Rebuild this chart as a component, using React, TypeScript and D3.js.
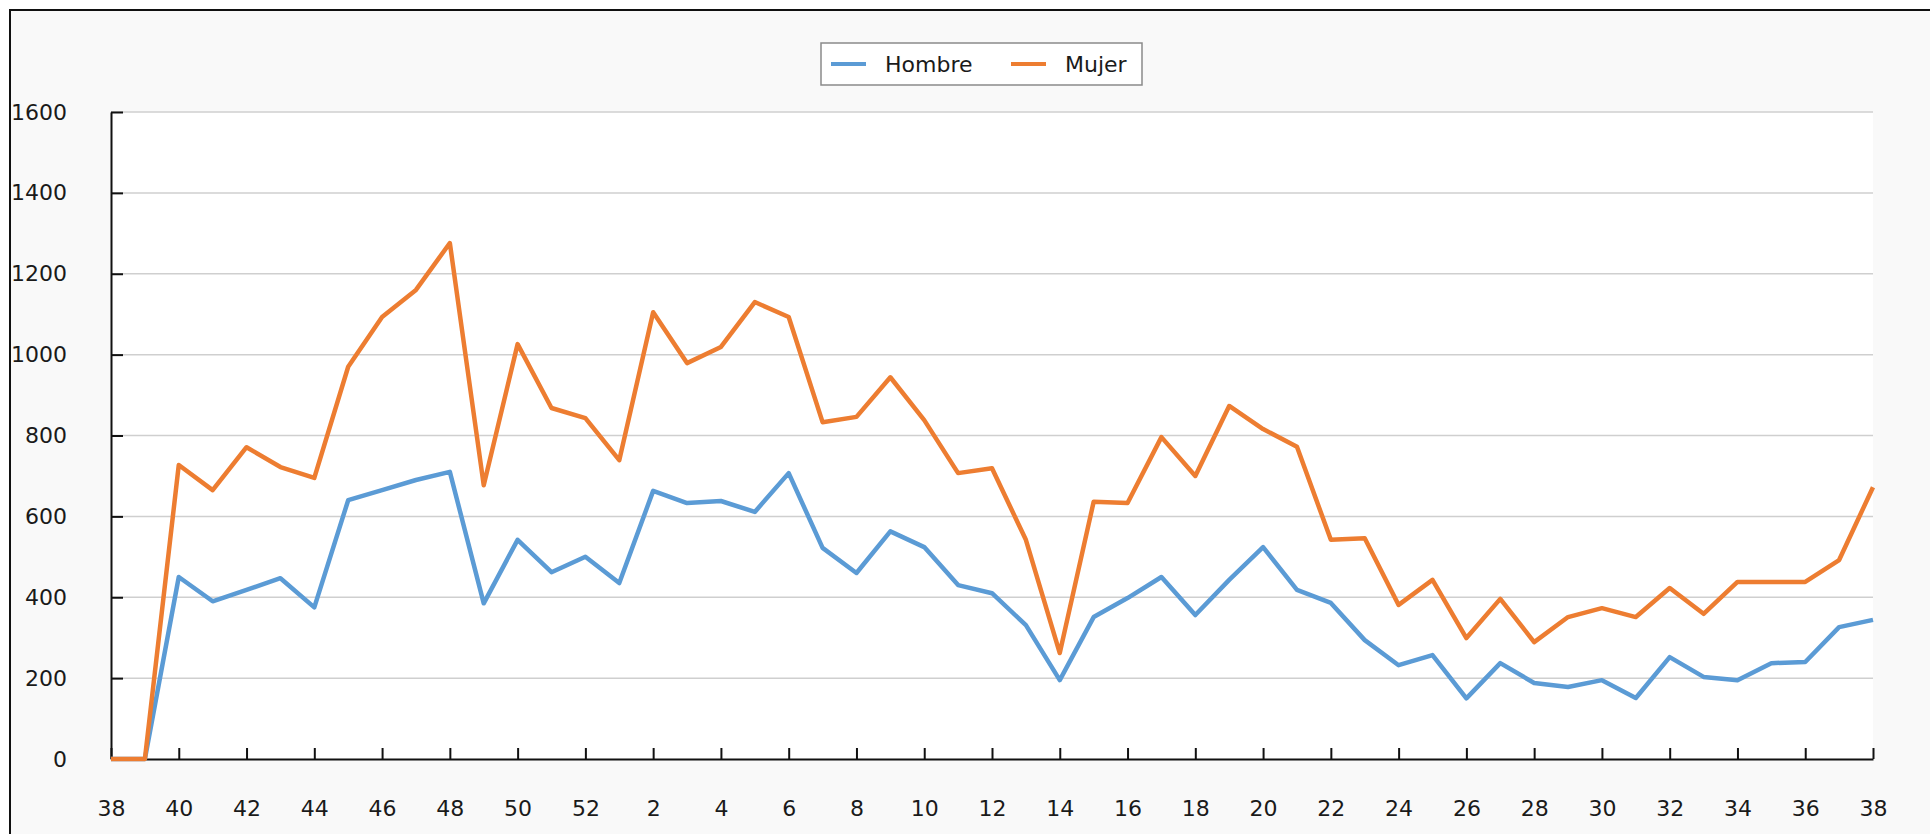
import React, { useEffect, useRef } from 'react';
import * as d3 from 'd3';

// semanas (de la 38 a la 38 del año siguiente)
const weeks = [
  '38', '39', '40', '41', '42', '43', '44', '45', '46', '47', '48', '49', '50', '51', '52',
  '1', '2', '3', '4', '5', '6', '7', '8', '9', '10', '11', '12', '13', '14', '15', '16',
  '17', '18', '19', '20', '21', '22', '23', '24', '25', '26', '27', '28', '29', '30', '31',
  '32', '33', '34', '35', '36', '37', '38',
];

const hombre = [
  0, 0, 450, 390, 418, 447, 375, 640, 665, 690, 710, 385, 542, 462, 500,
  435, 663, 633, 638, 611, 707, 522, 460, 563, 524, 430, 410, 331, 195, 351, 398,
  450, 356, 443, 524, 418, 386, 294, 232, 257, 150, 237, 188, 178, 195, 151,
  252, 203, 195, 237, 240, 326, 344,
];

const mujer = [
  0, 0, 727, 665, 771, 722, 695, 970, 1093, 1160, 1276, 677, 1026, 868, 843,
  739, 1105, 979, 1019, 1130, 1093, 833, 846, 944, 838, 707, 719, 542, 262, 636, 633,
  796, 700, 873, 816, 772, 542, 546, 381, 443, 299, 396, 289, 351, 373, 351,
  423, 359, 438, 438, 438, 492, 672,
];

const yTicks = [0, 200, 400, 600, 800, 1000, 1200, 1400, 1600];
const yMinor = [100, 300, 500, 700, 900, 1100, 1300, 1500];

const series = [
  { name: 'Hombre', values: hombre, color: '#5b9bd5' },
  { name: 'Mujer', values: mujer, color: '#ed7d31' },
];

const W = 1930;
const H = 834;
const FONT = 'DejaVu Sans, sans-serif';
const FS = 22;

export default function App() {
  const ref = useRef<SVGSVGElement>(null);

  useEffect(() => {
    const svg = d3.select(ref.current);
    svg.selectAll('*').remove();

    const left = 111, right = 1873, top = 112, bottom = 759;

    const x = d3.scaleLinear().domain([0, weeks.length - 1]).range([left, right]);
    const y = d3.scaleLinear().domain([0, 1600]).range([bottom, top]);

    // marco y fondo
    svg.append('rect').attr('width', W).attr('height', H).attr('fill', '#ffffff');
    svg.append('rect')
      .attr('x', 10).attr('y', 10)
      .attr('width', W + 20).attr('height', H + 20)
      .attr('fill', '#f9f9f9')
      .attr('stroke', '#111').attr('stroke-width', 2);

    svg.append('rect')
      .attr('x', left).attr('y', top)
      .attr('width', right - left).attr('height', bottom - top)
      .attr('fill', '#ffffff');

    // rejilla
    svg.append('g')
      .selectAll('line')
      .data(yTicks.slice(1))
      .enter().append('line')
      .attr('x1', left).attr('x2', right)
      .attr('y1', d => y(d)).attr('y2', d => y(d))
      .attr('stroke', '#cfcfcf').attr('stroke-width', 1.5);

    // eje Y
    const gy = svg.append('g').attr('transform', `translate(${left},0)`);
    gy.call(d3.axisLeft(y).tickValues(yMinor).tickSizeInner(-7).tickSizeOuter(0).tickFormat(() => ''));
    gy.call(
      d3.axisLeft(y)
        .tickValues(yTicks)
        .tickSizeInner(-12)
        .tickSizeOuter(0)
        .tickPadding(44)
        .tickFormat(d3.format('d'))
    );
    gy.selectAll('path').attr('stroke', '#111').attr('stroke-width', 2);
    gy.selectAll('line').attr('stroke', '#111').attr('stroke-width', 2);
    gy.selectAll('text')
      .attr('font-family', FONT).attr('font-size', FS).attr('fill', '#1a1a1a');

    // eje X
    const gx = svg.append('g').attr('transform', `translate(0,${bottom})`);
    gx.call(
      d3.axisBottom(x)
        .tickValues(d3.range(0, weeks.length, 2))
        .tickSizeInner(-11)
        .tickSizeOuter(0)
        .tickPadding(41)
        .tickFormat(i => weeks[+i])
    );
    gx.selectAll('path').attr('stroke', '#111').attr('stroke-width', 2);
    gx.selectAll('line').attr('stroke', '#111').attr('stroke-width', 2);
    gx.selectAll('text')
      .attr('font-family', FONT).attr('font-size', FS).attr('fill', '#1a1a1a');
    svg.selectAll('.domain').attr('stroke', '#111');

    // líneas
    const line = d3.line<number>()
      .x((_, i) => x(i))
      .y(d => y(d));

    svg.append('g')
      .selectAll('path')
      .data(series)
      .enter().append('path')
      .attr('d', d => line(d.values))
      .attr('fill', 'none')
      .attr('stroke', d => d.color)
      .attr('stroke-width', 4.5)
      .attr('stroke-linejoin', 'round');

    // leyenda
    const lg = svg.append('g');
    lg.append('rect')
      .attr('x', 821).attr('y', 43).attr('width', 321).attr('height', 42)
      .attr('fill', '#ffffff').attr('stroke', '#8a8a8a').attr('stroke-width', 1.5);
    const item = lg.selectAll('g.item')
      .data(series)
      .enter().append('g')
      .attr('class', 'item')
      .attr('transform', (_, i) => `translate(${831 + i * 180},64)`);
    item.append('line')
      .attr('x1', 0).attr('x2', 35).attr('y1', 0).attr('y2', 0)
      .attr('stroke', d => d.color).attr('stroke-width', 4);
    item.append('text')
      .attr('x', 54).attr('y', 0).attr('dy', '0.36em')
      .attr('font-family', FONT).attr('font-size', FS).attr('fill', '#1a1a1a')
      .text(d => d.name);
  }, []);

  return (
    <svg
      ref={ref}
      width={W}
      height={H}
      style={{ position: 'absolute', left: 0, top: 0, display: 'block' }}
    />
  );
}
